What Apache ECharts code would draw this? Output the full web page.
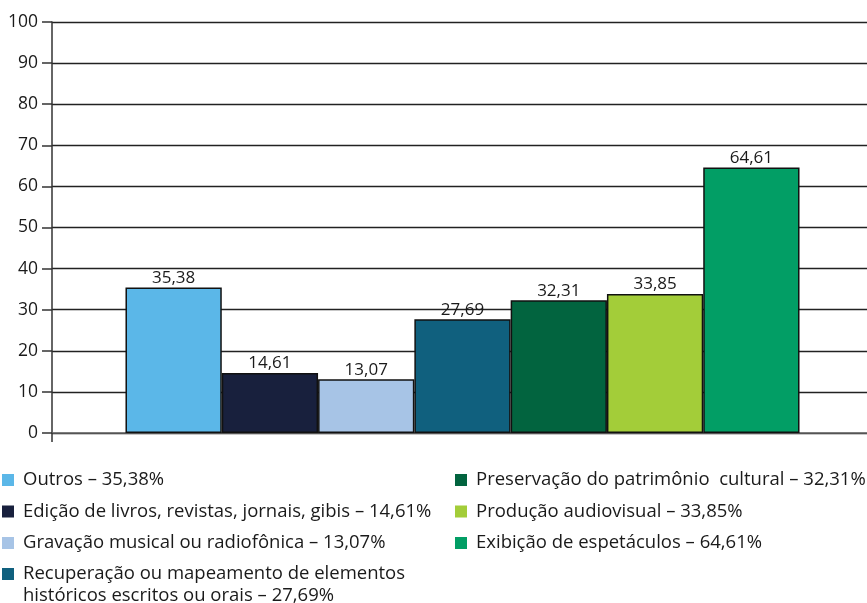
<!DOCTYPE html>
<html>
<head>
<meta charset="utf-8">
<script src="https://cdn.jsdelivr.net/npm/echarts@6/dist/echarts.min.js"></script>
<style>
  html, body { margin: 0; padding: 0; background: #fff; }
  #chart { width: 867px; height: 603px; }
</style>
</head>
<body>
<div id="chart"></div>
<script>
// dados do gráfico
const categorias = [
  'Outros',
  'Edição de livros, revistas, jornais, gibis',
  'Gravação musical ou radiofônica',
  'Recuperação ou mapeamento de elementos\nhistóricos escritos ou orais',
  'Preservação do patrimônio  cultural',
  'Produção audiovisual',
  'Exibição de espetáculos'
]
const valores = [35.38, 14.61, 13.07, 27.69, 32.31, 33.85, 64.61]
const cores = ['#5BB7E8', '#18203D', '#A7C4E6', '#10607E', '#02643F', '#A3CD39', '#029E65']
const yTicks = [0, 10, 20, 30, 40, 50, 60, 70, 80, 90, 100]

const fonte = '"Open Sans", "Noto Sans", sans-serif'
const fmt = v => v.toFixed(2).replace('.', ',')

const chart = echarts.init(document.getElementById('chart'))

const series = categorias.map((nome, i) => ({
  name: nome,
  type: 'bar',
  data: [valores[i]],
  barGap: '0%',
  barCategoryGap: '17.9%',
  itemStyle: {
    color: cores[i],
    borderColor: '#111',
    borderWidth: 1.5
  },
  label: {
    show: true,
    position: 'top',
    distance: 1,
    color: '#1a1a1a',
    fontFamily: fonte,
    fontSize: 17,
    formatter: p => fmt(p.value)
  }
}))

// legenda em duas colunas
const legendaBase = {
  orient: 'vertical',
  icon: 'rect',
  itemWidth: 12,
  itemHeight: 12,
  itemGap: 9.5,
  height: 300,
  itemStyle: { borderWidth: 0 },
  textStyle: { fontFamily: fonte, fontSize: 18.5, color: '#1a1a1a', lineHeight: 22, padding: [0, 0, 0, 4] },
  formatter: nome => nome + ' – ' + fmt(valores[categorias.indexOf(nome)]) + '%'
}

chart.setOption({
  animation: false,
  color: cores,
  grid: { left: 52, width: 821, top: 22, bottom: 170, outerBoundsMode: 'none' },
  legend: [
    Object.assign({}, legendaBase, { left: -3, top: 464, data: categorias.slice(0, 3) }),
    // item de duas linhas: quadrado alinhado com a primeira linha
    Object.assign({}, legendaBase, {
      left: -3, top: 558, data: [categorias[3]],
      icon: 'path://M0,0h12v12h-12z M0,34L12,34L0,34z',
      itemHeight: 34
    }),
    Object.assign({}, legendaBase, { left: 450, top: 464, data: categorias.slice(4) })
  ],
  xAxis: {
    type: 'category',
    data: [''],
    axisLine: { lineStyle: { color: '#666', width: 1.5 } },
    axisTick: { show: true, length: 9, lineStyle: { color: '#333', width: 1.5 } },
    axisLabel: { show: false }
  },
  yAxis: {
    type: 'value',
    min: 0,
    max: 100,
    interval: 10,
    axisLine: { show: true, lineStyle: { color: '#333', width: 1.5 } },
    axisTick: { show: true, length: 10, lineStyle: { color: '#333', width: 1.5 } },
    axisLabel: {
      margin: 14,
      color: '#1a1a1a',
      fontFamily: fonte,
      fontSize: 17.5,
      formatter: v => (yTicks.indexOf(v) >= 0 ? String(v) : '')
    },
    splitLine: { lineStyle: { color: '#222', width: 1.3 } }
  },
  series: series
})
</script>
</body>
</html>
